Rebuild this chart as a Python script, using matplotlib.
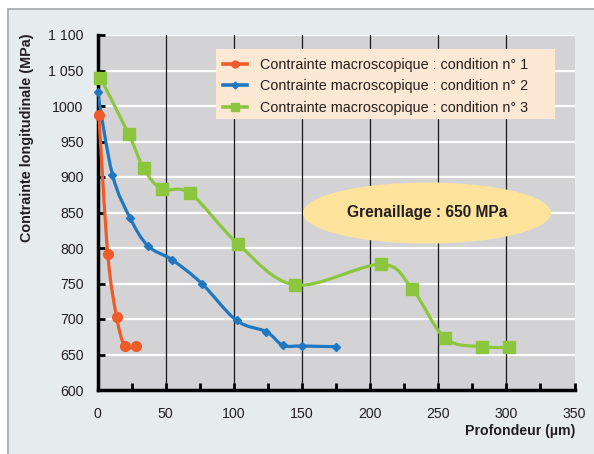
import matplotlib
matplotlib.use("Agg")
import matplotlib.pyplot as plt
from matplotlib.patches import Ellipse, Rectangle, PathPatch
from matplotlib.path import Path
from matplotlib.lines import Line2D
import numpy as np

plt.rcParams['font.family'] = ['Liberation Sans', 'DejaVu Sans']

# donnees
cond1_x = [1, 7.5, 14, 20, 28]
cond1_y = [987, 792, 703, 662, 662]
cond2_x = [0, 11, 24, 37, 55, 76.5, 102, 124, 136, 150, 175]
cond2_y = [1020, 903, 842, 803, 783, 750, 698, 682, 663, 662, 661]
cond3_x = [2, 23, 34, 47, 68, 103, 145, 208, 231, 255, 282, 302]
cond3_y = [1040, 960, 912, 883, 877, 806, 748, 777, 742, 673, 661, 660]

labels = ['Contrainte macroscopique : condition n° 1',
          'Contrainte macroscopique : condition n° 2',
          'Contrainte macroscopique : condition n° 3']
y_ticks = [600, 650, 700, 750, 800, 850, 900, 950, 1000, 1050, 1100]
y_tick_labels = ['600', '650', '700', '750', '800', '850', '900', '950',
                 '1000', '1 050', '1 100']
x_ticks = [0, 50, 100, 150, 200, 250, 300, 350]

RED = '#ef5a29'
BLUE = '#1f77c0'
GREEN = '#8cc63f'
TXT = '#231f20'


def courbe_lissee(ax, xs, ys, color, lw):
    # ligne lissee facon excel (bezier catmull-rom)
    p = np.column_stack([xs, ys]).astype(float)
    n = len(p)
    verts = [p[0]]
    codes = [Path.MOVETO]
    for i in range(n - 1):
        p0 = p[i - 1] if i > 0 else p[i]
        p3 = p[i + 2] if i + 2 < n else p[i + 1]
        c1 = p[i] + (p[i + 1] - p0) / 6.0
        c2 = p[i + 1] - (p3 - p[i]) / 6.0
        verts += [c1, c2, p[i + 1]]
        codes += [Path.CURVE4] * 3
    patch = PathPatch(Path(verts, codes), fill=False, edgecolor=color,
                      lw=lw, zorder=4, capstyle='round', joinstyle='round')
    ax.add_patch(patch)


fig = plt.figure(figsize=(5.94, 4.54), dpi=100, facecolor='white')
fig.patches.append(Rectangle((8 / 594, -0.01), 1, 1.01 - 9 / 454, transform=fig.transFigure,
                             facecolor='#e6ebee', edgecolor='#a3a8ab', lw=1.2, zorder=-10))

ax = fig.add_axes([97.5 / 594, 64 / 454, 477 / 594, 355 / 454])
ax.set_facecolor('#d3d3d5')
ax.set_xlim(0, 350)
ax.set_ylim(600, 1100)

for v in y_ticks[1:]:
    ax.axhline(v, color='white', lw=1.6, zorder=1)
for v in x_ticks[1:-1]:
    ax.axvline(v, color='#1a1a1a', lw=0.9, zorder=1.5)

ax.spines['right'].set_visible(False)
ax.spines['top'].set_visible(False)
ax.spines['left'].set_linewidth(2.5)
ax.spines['bottom'].set_linewidth(2.5)

ax.set_yticks(y_ticks)
ax.set_yticklabels(y_tick_labels)
ax.set_xticks(x_ticks)
ax.set_xticks(np.arange(25, 350, 50), minor=True)
ax.tick_params(axis='both', which='both', direction='in', length=5, width=2,
               labelsize=10.2, colors='black', labelcolor=TXT)
ax.tick_params(axis='y', pad=10)
ax.tick_params(axis='x', pad=12)

series = [(cond1_x, cond1_y, RED, 'o', 7, 5),
          (cond2_x, cond2_y, BLUE, 'D', 4.5, 3.5),
          (cond3_x, cond3_y, GREEN, 's', 9, 6)]
handles = []
for (xs, ys, c, m, ms, ms_leg), lab in zip(series, labels):
    courbe_lissee(ax, xs, ys, c, 2.3)
    ax.plot(xs, ys, ls='none', marker=m, ms=ms, color=c, zorder=5, clip_on=False)
    handles.append(Line2D([], [], color=c, lw=2.6, marker=m, ms=ms_leg))

# cadre de la legende
ax.add_patch(Rectangle((0.2484, 0.7634), 0.7107, 0.1972, transform=ax.transAxes,
                       facecolor='#fde9d3', edgecolor='none', zorder=5.5))
leg = ax.legend(handles, labels, loc='upper left', bbox_to_anchor=(0.2505, 0.951),
                fontsize=10.4, frameon=False, borderaxespad=0,
                handlelength=1.7, handletextpad=0.85, labelspacing=0.5,
                borderpad=0.4)
for t in leg.get_texts():
    t.set_color(TXT)
leg.set_zorder(6)

ell = Ellipse((0.6908, 0.4986), 0.52, 0.172, transform=ax.transAxes,
              facecolor='#fde39c', edgecolor='none', zorder=3)
ax.add_patch(ell)
ax.text(0.6908, 0.4986, 'Grenaillage : 650 MPa', transform=ax.transAxes,
        ha='center', va='center', fontsize=11.2, fontweight='bold',
        color=TXT, zorder=4)

fig.text(575 / 594, 1 - 431 / 454, 'Profondeur (µm)', ha='right', va='center',
         fontsize=10.2, fontweight='bold', color=TXT)
fig.text(27 / 594, 1 - 138 / 454, 'Contrainte longitudinale (MPa)', ha='center',
         va='center', rotation=90, fontsize=10.4, fontweight='bold', color=TXT)

fig.savefig('out.png', dpi=100, facecolor=fig.get_facecolor())
